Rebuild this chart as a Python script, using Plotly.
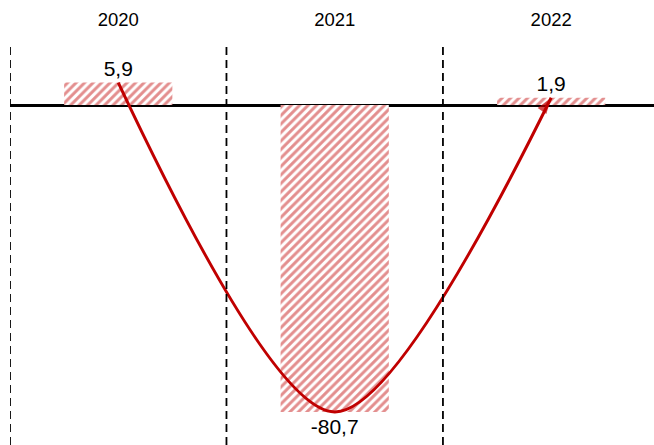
import plotly.graph_objects as go

years = ["2020", "2021", "2022"]
values = [5.9, -80.7, 1.9]
positions = [0, 1, 2]
boundaries = [-0.5, 0.5, 1.5, 2.5]

RED = "#C00000"

fig = go.Figure()
fig.add_trace(go.Bar(
    x=positions, y=values, width=0.5,
    marker=dict(color="white", line=dict(width=0),
                pattern=dict(shape="/", fgcolor="#C81E1E", bgcolor="white",
                             size=6, solidity=0.5, fillmode="overlay")),
    texttemplate="%{y:.1f}", textposition="outside",
    textfont=dict(family="Liberation Sans, Arial", size=21, color="black"),
    cliponaxis=False, showlegend=False, hoverinfo="skip",
))
fig.add_trace(go.Scatter(
    x=positions, y=values, mode="lines+markers",
    line=dict(color=RED, width=3, shape="spline", smoothing=0.85),
    marker=dict(symbol=["circle", "circle", "arrow"], size=[0, 0, 17],
                angleref="previous", color=RED, line=dict(width=0)),
    showlegend=False, hoverinfo="skip", cliponaxis=False,
))

for b in boundaries:
    fig.add_shape(type="line", xref="x", yref="paper", x0=b, x1=b, y0=0, y1=1,
                  line=dict(color="black", width=1.8, dash="8px,5px"), layer="above")

fig.update_layout(
    width=654, height=445,
    margin=dict(l=10, r=0, t=47, b=0, autoexpand=False),
    plot_bgcolor="white", paper_bgcolor="white",
    separators=",.",
    font=dict(family="Liberation Sans, Arial", size=18, color="black"),
    xaxis=dict(
        range=[-0.5, 2.475], side="top", automargin=False,
        tickvals=positions, ticktext=years, ticks="",
        ticklabelstandoff=16,
        showgrid=False, zeroline=False, showline=False,
        tickfont=dict(size=18.5),
    ),
    yaxis=dict(
        range=[-89.4, 15.25], showticklabels=False, showgrid=False,
        zeroline=True, zerolinecolor="black", zerolinewidth=3,
        ticks="", automargin=False,
    ),
)

fig.write_html("out.html", config={"displayModeBar": False},
               post_script="document.body.style.margin='0';document.body.style.overflow='hidden';")
